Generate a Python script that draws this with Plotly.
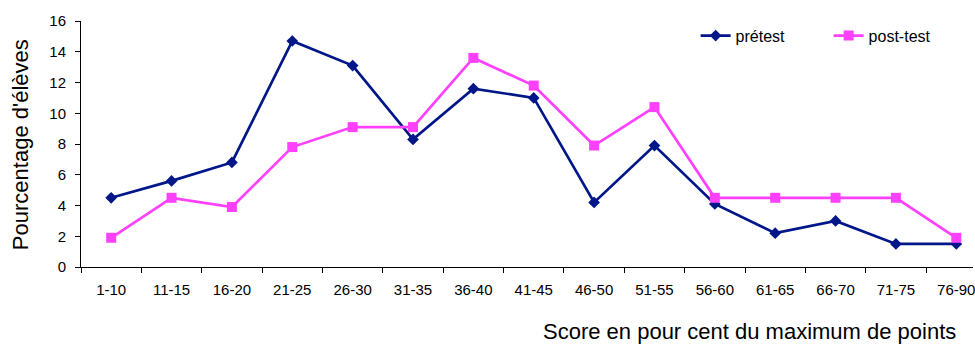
import plotly.graph_objects as go

# Score bands (percent of maximum points)
categories = ["1-10", "11-15", "16-20", "21-25", "26-30", "31-35", "36-40", "41-45",
              "46-50", "51-55", "56-60", "61-65", "66-70", "71-75", "76-90"]

# Percentage of pupils in each band
pretest = [4.5, 5.6, 6.8, 14.7, 13.1, 8.3, 11.6, 11.0, 4.2, 7.9, 4.1, 2.2, 3.0, 1.5, 1.5]
posttest = [1.9, 4.5, 3.9, 7.8, 9.1, 9.1, 13.6, 11.8, 7.9, 10.4, 4.5, 4.5, 4.5, 4.5, 1.9]

y_ticks = [0, 2, 4, 6, 8, 10, 12, 14, 16]

NAVY = "#001689"
PINK = "#ff40ff"
FONT = "Liberation Sans, Arial, sans-serif"

W, H = 975, 345
ML, MT, MB, MR = 81, 21, 78, 0
plot_w = W - ML - MR
plot_h = H - MT - MB

fig = go.Figure()
fig.add_trace(go.Scatter(
    x=categories, y=pretest, name="prétest", mode="lines+markers",
    line=dict(color=NAVY, width=2.7),
    marker=dict(symbol="diamond", size=9, color=NAVY),
))
fig.add_trace(go.Scatter(
    x=categories, y=posttest, name="post-test", mode="lines+markers",
    line=dict(color=PINK, width=2.7),
    marker=dict(symbol="square", size=10, color=PINK),
))

# category spacing ~60.5 px; the axis runs on past the right edge
cat_px = 60.5
x_end = -0.5 + plot_w / cat_px

fig.update_layout(
    width=W, height=H,
    margin=dict(l=ML, r=MR, t=MT, b=MB, pad=0),
    paper_bgcolor="white", plot_bgcolor="white",
    font=dict(family=FONT, size=15, color="#000000"),
    showlegend=True,
    legend=dict(
        orientation="h",
        x=(697 - ML) / plot_w, xanchor="left",
        y=1 - 14.7 / plot_h, yanchor="middle",
        font=dict(size=16, family=FONT, color="#000000"),
        bgcolor="rgba(0,0,0,0)",
        entrywidth=88, entrywidthmode="pixels",
        tracegroupgap=0,
    ),
    xaxis=dict(
        type="category", range=[-0.5, x_end],
        showline=True, linecolor="#000000", linewidth=1,
        ticks="outside", ticklen=5, tickcolor="#000000", tickson="boundaries",
        showgrid=False, zeroline=False,
        tickfont=dict(size=15, family=FONT, color="#000000"),
        ticklabelstandoff=9,
    ),
    yaxis=dict(
        range=[0, 16], tickvals=y_ticks,
        showline=True, linecolor="#000000", linewidth=1,
        ticks="outside", ticklen=5, tickcolor="#000000",
        showgrid=False, zeroline=False,
        tickfont=dict(size=15, family=FONT, color="#000000"),
        ticklabelstandoff=6,
    ),
    annotations=[
        dict(text="Pourcentage d'élèves", xref="paper", yref="paper",
             x=(20 - ML) / plot_w, y=1 - (145 - MT) / plot_h,
             xanchor="center", yanchor="middle", textangle=-90, showarrow=False,
             font=dict(size=22, family=FONT, color="#000000")),
        dict(text="Score en pour cent du maximum de points", xref="paper", yref="paper",
             x=(751 - ML) / plot_w, y=1 - (331 - MT) / plot_h,
             xanchor="center", yanchor="middle", showarrow=False,
             font=dict(size=22, family=FONT, color="#000000")),
    ],
)

fig.write_html("out.html")
